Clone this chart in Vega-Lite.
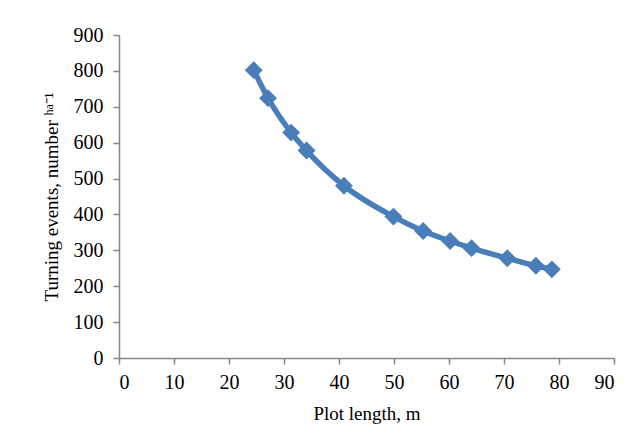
{
  "$schema": "https://vega.github.io/schema/vega-lite/v6.json",
  "width": 495,
  "height": 323,
  "autosize": {"type": "none"},
  "padding": {"left": 119, "top": 35, "right": 26, "bottom": 83},
  "background": "white",
  "config": {
    "view": {"stroke": null},
    "axis": {
      "grid": false,
      "domainColor": "#868686",
      "domainWidth": 1.5,
      "tickColor": "#868686",
      "tickWidth": 1.5,
      "tickSize": 6,
      "labelFont": "Liberation Serif",
      "labelFontSize": 20,
      "labelColor": "#000000",
      "titleFont": "Liberation Serif",
      "titleFontSize": 19,
      "titleFontWeight": "normal",
      "titleColor": "#000000"
    }
  },
  "data": {
    "values": [
      {"length": 24.5, "events": 802},
      {"length": 27.1, "events": 724},
      {"length": 31.3, "events": 628},
      {"length": 34.1, "events": 578},
      {"length": 40.9, "events": 480},
      {"length": 49.9, "events": 394},
      {"length": 55.3, "events": 354},
      {"length": 60.2, "events": 326},
      {"length": 64.1, "events": 306},
      {"length": 70.6, "events": 278},
      {"length": 75.8, "events": 257},
      {"length": 78.7, "events": 247}
    ]
  },
  "encoding": {
    "x": {
      "field": "length",
      "type": "quantitative",
      "scale": {"domain": [0, 90], "nice": false, "zero": false},
      "axis": {
        "values": [0, 10, 20, 30, 40, 50, 60, 70, 80, 90],
        "title": "Plot length, m",
        "labelPadding": 8,
        "titlePadding": 12
      }
    },
    "y": {
      "field": "events",
      "type": "quantitative",
      "scale": {"domain": [0, 900], "nice": false},
      "axis": {
        "values": [0, 100, 200, 300, 400, 500, 600, 700, 800, 900],
        "title": "Turning events, number ʰᵃ⁻¹",
        "labelPadding": 10,
        "titlePadding": 12
      }
    }
  },
  "layer": [
    {
      "mark": {"type": "line", "interpolate": "monotone", "strokeWidth": 5.5, "color": "#4a7ebb"}
    },
    {
      "mark": {"type": "point", "shape": "diamond", "filled": true, "size": 320, "color": "#4a7ebb", "opacity": 1}
    }
  ]
}
